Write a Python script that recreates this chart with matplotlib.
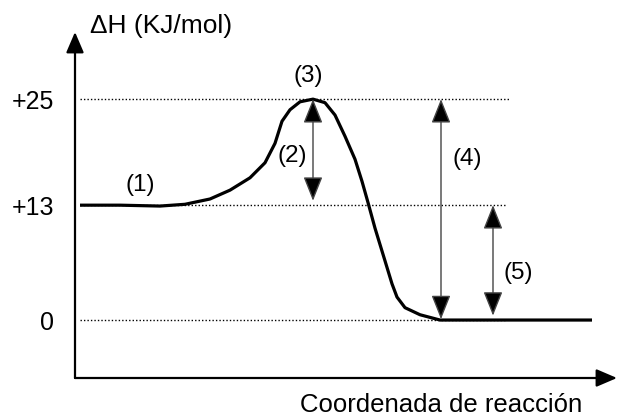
import matplotlib
matplotlib.use("Agg")
import matplotlib.pyplot as plt

plt.rcParams['font.family'] = ['Liberation Sans', 'DejaVu Sans']

# Reaction coordinate (arbitrary units) and enthalpy profile (kJ/mol)
rc = [5, 45, 85, 110, 135, 155, 175, 190, 200, 207, 215, 225, 238, 250, 260,
      270, 280, 287, 293, 300, 310, 317, 322, 330, 345, 365, 425, 517]
dH = [13, 13, 12.9, 13.1, 13.7, 14.7, 16.1, 17.8, 20, 22.5, 23.8, 24.7, 25, 24.6,
      23.2, 20.8, 18.2, 15.7, 13.3, 10.4, 6.7, 4.1, 2.6, 1.4, 0.6, 0, 0, 0]

levels = [25, 13, 0]
level_labels = ['+25', '+13', '0']
level_ends = [435, 430, 430]

# Double arrows: x, top, bottom
arrows_x = [238, 366, 418]
arrows_top = [25, 25, 13]
arrows_bot = [13.5, 0.1, 0.5]

step_labels = ['(1)', '(2)', '(3)', '(4)', '(5)']
step_x = [65, 217, 233, 392, 443]
step_y = [15.3, 18.6, 27.6, 18.2, 5.3]

W, H = 618, 418
fig = plt.figure(figsize=(W / 100, H / 100), dpi=100)
ax = fig.add_axes([75 / W, (H - 378) / H, (617 - 75) / W, (378 - 32) / H])
ax.set_xlim(0, 542)
ax.set_ylim(-6.56, 32.6)
for s in ax.spines.values():
    s.set_visible(False)

# axes with arrows
axis_style = '-|>,head_width=0.3,head_length=0.7'
ax.annotate('', xy=(0, 1), xytext=(0, 0), xycoords='axes fraction',
            arrowprops=dict(arrowstyle=axis_style, lw=1.6, color='black',
                            mutation_scale=18, shrinkA=0, shrinkB=0))
ax.annotate('', xy=(1, 0), xytext=(0, 0), xycoords='axes fraction',
            arrowprops=dict(arrowstyle=axis_style, lw=1.6, color='black',
                            mutation_scale=18, shrinkA=0, shrinkB=0))

for lv, xe in zip(levels, level_ends):
    ax.plot([5, xe], [lv, lv], color='black', lw=1.0, ls=(0, (1, 1.5)))

ax.plot(rc, dH, color='black', lw=2.3, solid_capstyle='butt')

for xa, yt, yb in zip(arrows_x, arrows_top, arrows_bot):
    ax.annotate('', xy=(xa, yb), xytext=(xa, yt),
                arrowprops=dict(arrowstyle='<|-|>,head_width=0.3,head_length=0.75',
                                lw=1.0, mutation_scale=20, shrinkA=0, shrinkB=0,
                                ec='#444444', fc='black'))

for t, x, y in zip(step_labels, step_x, step_y):
    ax.text(x, y, t, fontsize=17.5, ha='center', va='center')

ax.set_yticks(levels)
ax.set_yticklabels(level_labels, fontsize=18)
ax.tick_params(axis='y', length=0, pad=15)
ax.set_xticks([])

fig.text(90 / W, 1 - 26 / H, 'ΔH (KJ/mol)', fontsize=19, ha='left', va='center')
fig.text(300 / W, 1 - 405 / H, 'Coordenada de reacción', fontsize=18.5,
         ha='left', va='center')

fig.savefig('out.png', dpi=100)
